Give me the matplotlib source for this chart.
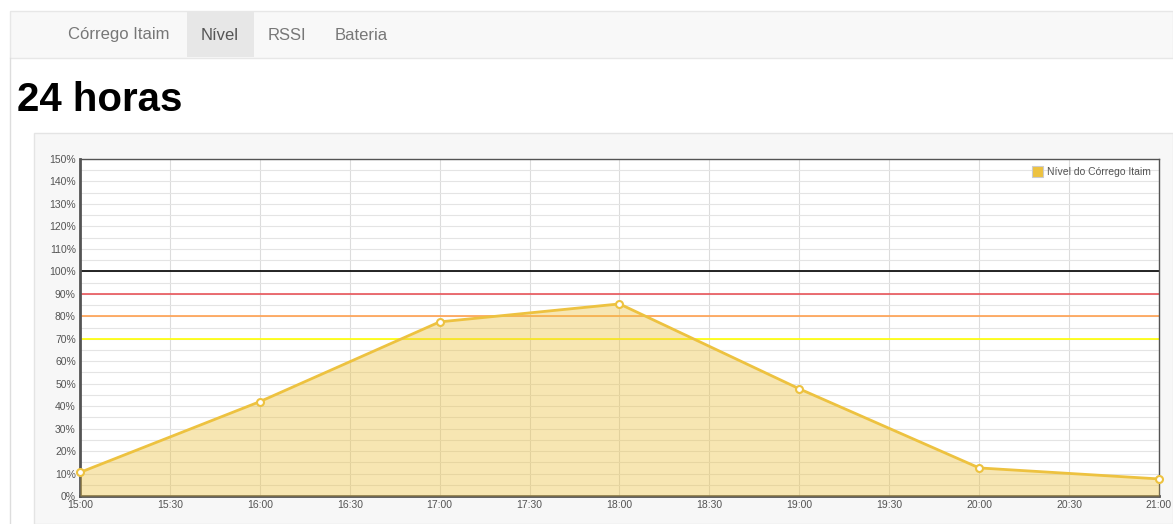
import matplotlib
matplotlib.use("Agg")
import matplotlib.pyplot as plt
from matplotlib.patches import Rectangle
import matplotlib.ticker as mticker

# ---- data ----
hours = [15.0, 16.0, 17.0, 18.0, 19.0, 20.0, 21.0]
nivel = [10.5, 42.0, 77.5, 85.5, 47.7, 12.5, 7.6]
x_ticks = [15.0, 15.5, 16.0, 16.5, 17.0, 17.5, 18.0, 18.5, 19.0, 19.5, 20.0, 20.5, 21.0]
x_labels = ["15:00", "15:30", "16:00", "16:30", "17:00", "17:30", "18:00",
            "18:30", "19:00", "19:30", "20:00", "20:30", "21:00"]
y_ticks = [0, 10, 20, 30, 40, 50, 60, 70, 80, 90, 100, 110, 120, 130, 140, 150]
thresholds = [100, 90, 80, 70]
threshold_colors = ["#000000", "#e8555a", "#ffa050", "#ffff00"]
nav_items = ["Córrego Itaim", "Nível", "RSSI", "Bateria"]
title = "24 horas"
series_name = "Nível do Córrego Itaim"

W, H = 1173, 524
fig = plt.figure(figsize=(W / 100, H / 100), dpi=100)
fig.patch.set_facecolor("white")
FONT = "Liberation Sans"

def px(x, y, w, h):
    return [x / W, 1 - (y + h) / H, w / W, h / H]

# page background layer
bg = fig.add_axes([0, 0, 1, 1])
bg.set_xlim(0, W)
bg.set_ylim(H, 0)
bg.axis("off")

bg.plot([10, 10], [58, H], color="#dddddd", lw=1)
bg.add_patch(Rectangle((10, 11), W - 10, 47, facecolor="#f8f8f8", edgecolor="#e7e7e7", lw=1))
bg.add_patch(Rectangle((187, 12), 67, 45, facecolor="#e7e7e7", edgecolor="none"))
nav_x = [68, 201, 268, 335]
for name, x in zip(nav_items, nav_x):
    bg.text(x, 35, name, fontsize=12, color="#555555" if name == "Nível" else "#777777",
            va="center", ha="left", family=FONT)
bg.text(17, 100, title, fontsize=29, fontweight="bold", color="#000000",
        va="center", ha="left", family=FONT)
bg.add_patch(Rectangle((34, 133), W - 34, H - 133, facecolor="#f7f7f7", edgecolor="#e4e4e4", lw=1))

# ---- chart ----
ax = fig.add_axes(px(80, 159, 1079, 337))
ax.set_facecolor("white")
ax.set_xlim(15, 21)
ax.set_ylim(0, 150)

ax.set_yticks(y_ticks)
ax.set_yticklabels([f"{v}%" for v in y_ticks], family=FONT)
ax.yaxis.set_minor_locator(mticker.MultipleLocator(5))
ax.set_xticks(x_ticks)
ax.set_xticklabels(x_labels, family=FONT)
ax.tick_params(axis="both", length=0, labelsize=7.5, labelcolor="#545454", pad=3)
ax.tick_params(which="minor", length=0)
ax.grid(True, which="both", axis="y", color="#e4e4e4", lw=0.8)
ax.grid(True, which="major", axis="x", color="#dcdcdc", lw=0.8)
ax.set_axisbelow(True)

for th, c in zip(thresholds, threshold_colors):
    ax.axhline(th, color=c, lw=1.2, zorder=2)

ax.fill_between(hours, nivel, 0, color="#edc240", alpha=0.4, lw=0, zorder=3)
ax.plot(hours, nivel, color="#edc240", lw=2, zorder=4, clip_on=False)
ax.plot(hours, nivel, "o", ms=5, mfc="white", mec="#edc240", mew=1.5, zorder=5, clip_on=False)

for s in ax.spines.values():
    s.set_color("#545454")
    s.set_linewidth(1)
ax.spines["left"].set_linewidth(2)
ax.spines["bottom"].set_linewidth(2)

# legend (overlay layer above the chart)
ov = fig.add_axes([0, 0, 1, 1], zorder=10)
ov.set_xlim(0, W)
ov.set_ylim(H, 0)
ov.axis("off")
ov.patch.set_alpha(0)
ov.add_patch(Rectangle((1032, 166), 11, 11, facecolor="#edc240", edgecolor="#cccccc", lw=0.8))
ov.text(1047, 172, series_name, fontsize=7.5, color="#545454", va="center", ha="left", family=FONT)

fig.savefig("out.png", dpi=100)
